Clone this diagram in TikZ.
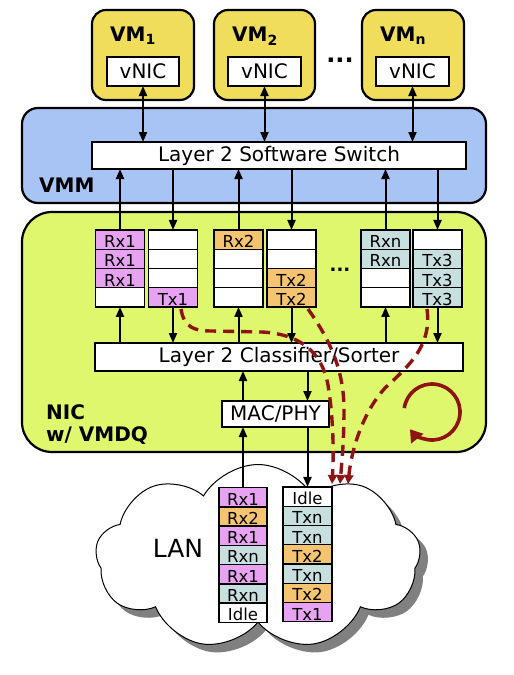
\documentclass[tikz,border=0pt]{standalone}
\usepackage{fontspec}
\setmainfont{DejaVu Sans}
\usetikzlibrary{arrows.meta,positioning,shapes,shadows}
\definecolor{vmyellow}{RGB}{240,221,92}
\definecolor{vmmblue}{RGB}{168,196,245}
\definecolor{nicgreen}{RGB}{222,247,108}
\definecolor{qpink}{RGB}{231,163,241}
\definecolor{qorange}{RGB}{244,196,112}
\definecolor{qteal}{RGB}{199,223,223}
\definecolor{flowred}{RGB}{142,20,20}
\tikzset{
    %Define standard arrow tip
    >={Triangle[length=10pt,width=8pt]},
    %Define style for boxes
    vmbox/.style={
             rectangle, rounded corners=14pt,
             draw=black, line width=2.2pt,
             fill=vmyellow,
             inner sep=0pt, outer sep=0pt},
    hostbox/.style={
             rectangle, rounded corners=16pt,
             draw=black, line width=2.2pt,
             inner sep=0pt, outer sep=0pt},
    whitebox/.style={
             rectangle,
             draw=black, line width=1.6pt,
             fill=white,
             inner sep=0pt, outer sep=0pt,
             font=\fontsize{20}{20}\selectfont},
    qcell/.style={
             rectangle,
             draw=black, line width=1.4pt,
             fill=white,
             minimum width=49pt, minimum height=19.25pt,
             inner sep=0pt, outer sep=0pt,
             text height=16pt, text depth=0pt,
             font=\fontsize{16.5}{16.5}\selectfont},
    boldlabel/.style={
             inner sep=0pt,
             font=\bfseries\fontsize{20}{22}\selectfont},
    lancloud/.style={
             cloud, cloud puffs=9, cloud puff arc=120,
             draw=black, line width=1pt, fill=white,
             drop shadow={shadow xshift=8pt, shadow yshift=-8pt,
                          fill=black!50, opacity=1}},
    % Define arrow style
    linkarrow/.style={
            ->,
            line width=2pt},
    txflow/.style={
            -{Triangle[length=9pt,width=9pt]},
            draw=flowred,
            line width=3.4pt,
            dash pattern=on 11pt off 7pt}
}
\begin{document}
\begin{tikzpicture}[x=1pt, y=-1pt]
 \useasboundingbox (0,0) rectangle (514,675);
 % VMM
 \node[hostbox, fill=vmmblue, minimum width=464pt, minimum height=95pt] (vmm) at (254,155.5) {};
 \node[whitebox, minimum width=374pt, minimum height=27pt] (sw) at (279,155.5) {Layer 2 Software Switch};
 \node[boldlabel, anchor=base west] at (39,192) {VMM};
 % VMs
 \node[vmbox, minimum width=102pt, minimum height=90pt] (vm1) at (143,55) {};
 \node[vmbox, minimum width=101pt, minimum height=90pt] (vm2) at (264.5,55) {};
 \node[vmbox, minimum width=102pt, minimum height=90pt] (vmn) at (413,55) {};
 \node[boldlabel, below right=17pt and 18pt of vm1.north west] {VM\textsubscript{1}};
 \node[boldlabel, below right=17pt and 18pt of vm2.north west] {VM\textsubscript{2}};
 \node[boldlabel, below right=17pt and 18pt of vmn.north west] {VM\textsubscript{n}};
 \node[whitebox, minimum width=72pt, minimum height=29pt] (nic1) at (143,71.5) {vNIC};
 \node[whitebox, minimum width=73pt, minimum height=29pt] (nic2) at (264.5,71.5) {vNIC};
 \node[whitebox, minimum width=73pt, minimum height=29pt] (nicn) at (412.5,71.5) {vNIC};
 \node[inner sep=0pt, font=\bfseries\fontsize{24}{24}\selectfont] (vmdots) at (340,60) {...};
 % NIC
 \node[hostbox, rounded corners=30pt, fill=nicgreen, minimum width=464pt, minimum height=240pt] (nic) at (254,332) {};
 \node[boldlabel, anchor=north west, align=left] at (46,404) {NIC\\w/ VMDQ};
 % queues
 \node[qcell, fill=qpink] (rxa1) at (120,239.6) {Rx1};
 \node[qcell, fill=qpink, below=0pt of rxa1] (rxa2) {Rx1};
 \node[qcell, fill=qpink, below=0pt of rxa2] (rxa3) {Rx1};
 \node[qcell, below=0pt of rxa3] (rxa4) {};
 \node[qcell] (txa1) at (173,239.6) {};
 \node[qcell, below=0pt of txa1] (txa2) {};
 \node[qcell, below=0pt of txa2] (txa3) {};
 \node[qcell, fill=qpink, below=0pt of txa3] (txa4) {Tx1};
 \node[qcell, fill=qorange] (rxb1) at (238.5,239.6) {Rx2};
 \node[qcell, below=0pt of rxb1] (rxb2) {};
 \node[qcell, below=0pt of rxb2] (rxb3) {};
 \node[qcell, below=0pt of rxb3] (rxb4) {};
 \node[qcell] (txb1) at (291.5,239.6) {};
 \node[qcell, below=0pt of txb1] (txb2) {};
 \node[qcell, fill=qorange, below=0pt of txb2] (txb3) {Tx2};
 \node[qcell, fill=qorange, below=0pt of txb3] (txb4) {Tx2};
 \node[inner sep=0pt, font=\bfseries\fontsize{18}{18}\selectfont] (qdots) at (340,270) {...};
 \node[qcell, fill=qteal] (rxc1) at (385.5,239.6) {Rxn};
 \node[qcell, fill=qteal, below=0pt of rxc1] (rxc2) {Rxn};
 \node[qcell, below=0pt of rxc2] (rxc3) {};
 \node[qcell, below=0pt of rxc3] (rxc4) {};
 \node[qcell] (txc1) at (437.5,239.6) {};
 \node[qcell, fill=qteal, below=0pt of txc1] (txc2) {Tx3};
 \node[qcell, fill=qteal, below=0pt of txc2] (txc3) {Tx3};
 \node[qcell, fill=qteal, below=0pt of txc3] (txc4) {Tx3};
 \node[whitebox, minimum width=368pt, minimum height=28pt] (cls) at (279,357) {Layer 2 Classifier/Sorter};
 \node[whitebox, minimum width=107pt, minimum height=26pt] (mac) at (275.5,414) {MAC/PHY};
 % LAN
 \node[lancloud, minimum width=325pt, minimum height=185pt] (lan) at (258,557) {};
 \node[inner sep=0pt, font=\fontsize{25}{25}\selectfont] (lantext) at (178,548) {LAN};
 \node[qcell, minimum width=48pt, fill=qpink] (lrx1) at (243,497.2) {Rx1};
 \node[qcell, minimum width=48pt, fill=qorange, below=0pt of lrx1] (lrx2) {Rx2};
 \node[qcell, minimum width=48pt, fill=qpink, below=0pt of lrx2] (lrx3) {Rx1};
 \node[qcell, minimum width=48pt, fill=qteal, below=0pt of lrx3] (lrx4) {Rxn};
 \node[qcell, minimum width=48pt, fill=qpink, below=0pt of lrx4] (lrx5) {Rx1};
 \node[qcell, minimum width=48pt, fill=qteal, below=0pt of lrx5] (lrx6) {Rxn};
 \node[qcell, minimum width=48pt, below=0pt of lrx6] (lrx7) {Idle};
 \node[qcell] (ltx1) at (307.5,496.6) {Idle};
 \node[qcell, fill=qteal, below=0pt of ltx1] (ltx2) {Txn};
 \node[qcell, fill=qteal, below=0pt of ltx2] (ltx3) {Txn};
 \node[qcell, fill=qorange, below=0pt of ltx3] (ltx4) {Tx2};
 \node[qcell, fill=qteal, below=0pt of ltx4] (ltx5) {Txn};
 \node[qcell, fill=qorange, below=0pt of ltx5] (ltx6) {Tx2};
 \node[qcell, fill=qpink, below=0pt of ltx6] (ltx7) {Tx1};
 % links
 \draw[linkarrow, <->] (nic1.south) -- (nic1.south |- sw.north);
 \draw[linkarrow, <->] (nic2.south) -- (nic2.south |- sw.north);
 \draw[linkarrow, <->] (nicn.south) -- (nicn.south |- sw.north);
 \draw[linkarrow] (rxa1.north) -- (rxa1.north |- sw.south);
 \draw[linkarrow] (rxb1.north) -- (rxb1.north |- sw.south);
 \draw[linkarrow] (rxc1.north) -- (rxc1.north |- sw.south);
 \draw[linkarrow] (txa1.north |- sw.south) -- (txa1.north);
 \draw[linkarrow] (txb1.north |- sw.south) -- (txb1.north);
 \draw[linkarrow] (txc1.north |- sw.south) -- (txc1.north);
 \draw[linkarrow] (rxa4.south |- cls.north) -- (rxa4.south);
 \draw[linkarrow] (rxb4.south |- cls.north) -- (rxb4.south);
 \draw[linkarrow] (rxc4.south |- cls.north) -- (rxc4.south);
 \draw[linkarrow] (txa4.south) -- (txa4.south |- cls.north);
 \draw[linkarrow] (txb4.south) -- (txb4.south |- cls.north);
 \draw[linkarrow] (txc4.south) -- (txc4.south |- cls.north);
 \draw[linkarrow] (lrx1.north |- mac.north) -- (lrx1.north |- cls.south);
 \draw[linkarrow] (ltx1.north |- cls.south) -- (ltx1.north |- mac.north);
 \draw[linkarrow] (lrx1.north) -- (lrx1.north |- mac.south);
 \draw[linkarrow] (ltx1.north |- mac.south) -- (ltx1.north);
 % transmit order
 \coordinate (t1out) at (181,309);
 \coordinate (t2out) at (308,309);
 \coordinate (t3out) at (427,309);
 \coordinate (wire1) at (332,484);
 \coordinate (wire2) at (340,484);
 \coordinate (wire3) at (348,484);
 \draw[txflow] (t1out) .. controls (184,328) and (195,331) .. (212,331) -- (262,332)
       .. controls (300,334) and (322,352) .. (328,385) .. controls (333,415) and (334,450) .. (wire1);
 \draw[txflow] (t2out) .. controls (330,340) and (344,370) .. (344,410) .. controls (344,440) and (342,460) .. (wire2);
 \draw[txflow] (t3out) .. controls (432,345) and (410,365) .. (385,388) .. controls (365,410) and (352,445) .. (wire3);
 \coordinate (spin) at (432,412);
 \draw[flowred, line width=3.6pt, -{Triangle[length=12pt,width=15pt]}] (spin) ++(172:28pt) arc[start angle=172, end angle=-142, radius=28pt];
\end{tikzpicture}
\end{document}
